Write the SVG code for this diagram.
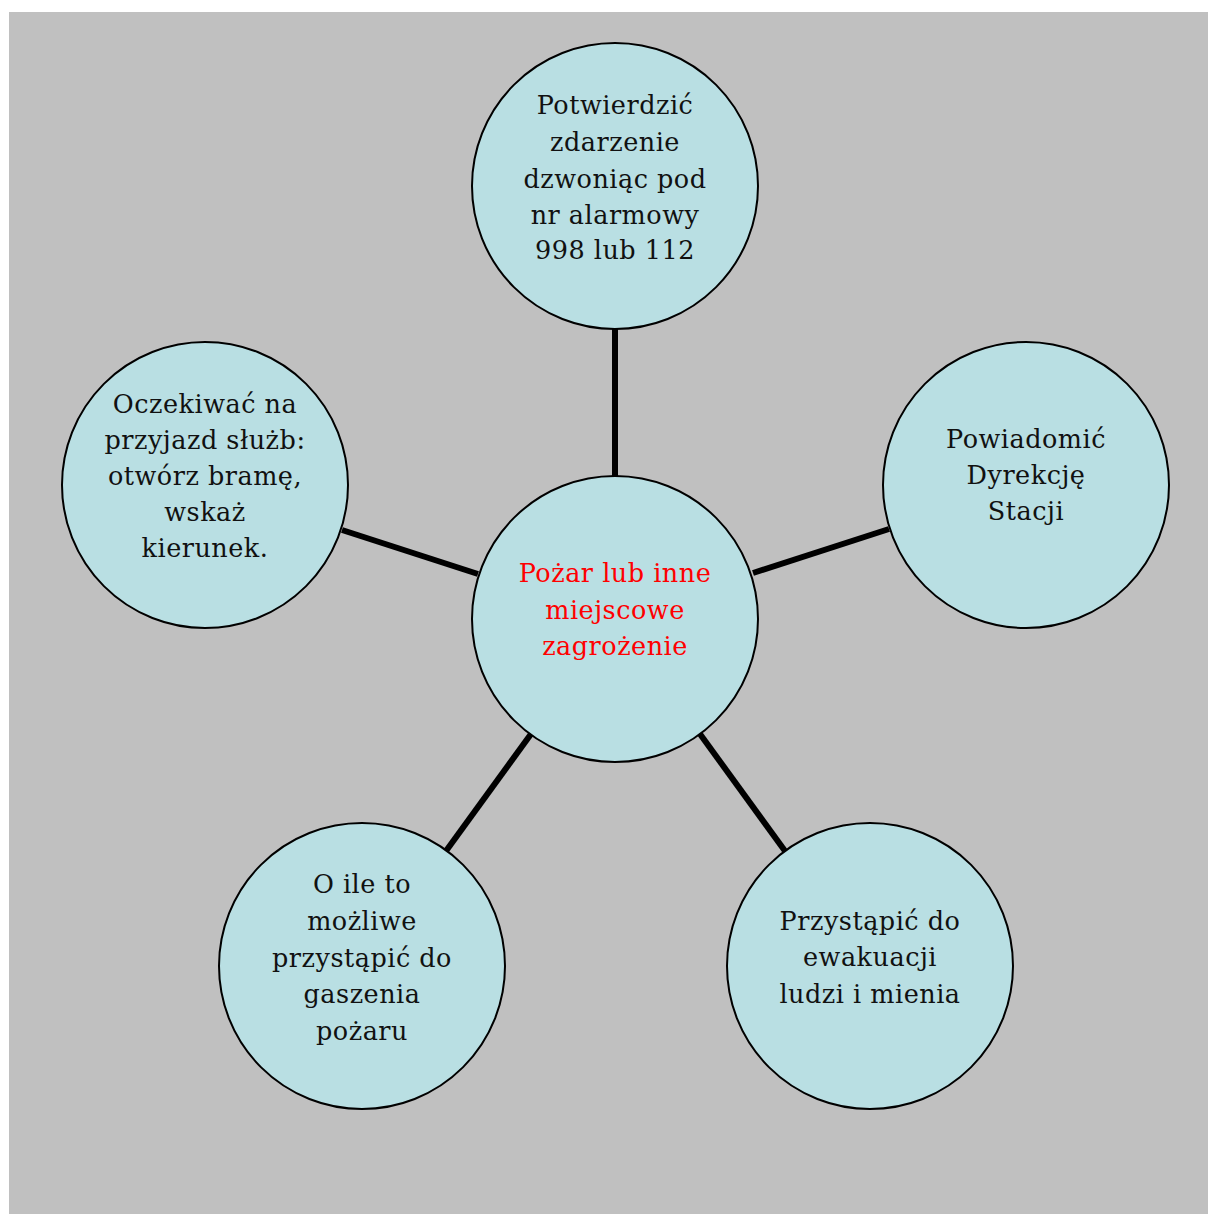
<svg xmlns="http://www.w3.org/2000/svg" width="1208" height="1214" viewBox="0 0 1208 1214">
<style>
.node{fill:#b9dfe3;stroke:#000;stroke-width:2}
.lbl{font-family:"DejaVu Serif","Liberation Serif",serif;font-size:25.5px;letter-spacing:0.5px;fill:#111;text-anchor:middle}
.red{fill:#ff0000}
.conn line{stroke:#000;stroke-width:6}
</style>
<rect x="0" y="0" width="1208" height="1214" fill="#fff"/>
<rect x="9" y="12" width="1199" height="1202" fill="#c0c0c0"/>
<g class="conn" id="connectors">
<line x1="615" y1="328" x2="615" y2="478"/>
<line x1="753" y1="573" x2="889" y2="529"/>
<line x1="342" y1="530" x2="478" y2="574"/>
<line x1="446" y1="851" x2="531" y2="734"/>
<line x1="785" y1="851" x2="700" y2="734"/>
</g>
<g id="center">
<circle class="node" cx="615" cy="619" r="143"/>
<text class="lbl red" x="615" y="582">Pożar lub inne</text>
<text class="lbl red" x="615" y="619">miejscowe</text>
<text class="lbl red" x="615" y="655">zagrożenie</text>
</g>
<g id="top">
<circle class="node" cx="615" cy="186" r="143"/>
<text class="lbl" x="615" y="114">Potwierdzić</text>
<text class="lbl" x="615" y="151">zdarzenie</text>
<text class="lbl" x="615" y="188">dzwoniąc pod</text>
<text class="lbl" x="615" y="224">nr alarmowy</text>
<text class="lbl" x="615" y="259">998 lub 112</text>
</g>
<g id="right">
<circle class="node" cx="1026" cy="485" r="143"/>
<text class="lbl" x="1026" y="448">Powiadomić</text>
<text class="lbl" x="1026" y="484">Dyrekcję</text>
<text class="lbl" x="1026" y="520">Stacji</text>
</g>
<g id="left">
<circle class="node" cx="205" cy="485" r="143"/>
<text class="lbl" x="205" y="413">Oczekiwać na</text>
<text class="lbl" x="205" y="449">przyjazd służb:</text>
<text class="lbl" x="205" y="485">otwórz bramę,</text>
<text class="lbl" x="205" y="521">wskaż</text>
<text class="lbl" x="205" y="557">kierunek.</text>
</g>
<g id="bottom-left">
<circle class="node" cx="362" cy="966" r="143"/>
<text class="lbl" x="362" y="893">O ile to</text>
<text class="lbl" x="362" y="930">możliwe</text>
<text class="lbl" x="362" y="967">przystąpić do</text>
<text class="lbl" x="362" y="1003">gaszenia</text>
<text class="lbl" x="362" y="1040">pożaru</text>
</g>
<g id="bottom-right">
<circle class="node" cx="870" cy="966" r="143"/>
<text class="lbl" x="870" y="930">Przystąpić do</text>
<text class="lbl" x="870" y="966">ewakuacji</text>
<text class="lbl" x="870" y="1003">ludzi i mienia</text>
</g>
</svg>
